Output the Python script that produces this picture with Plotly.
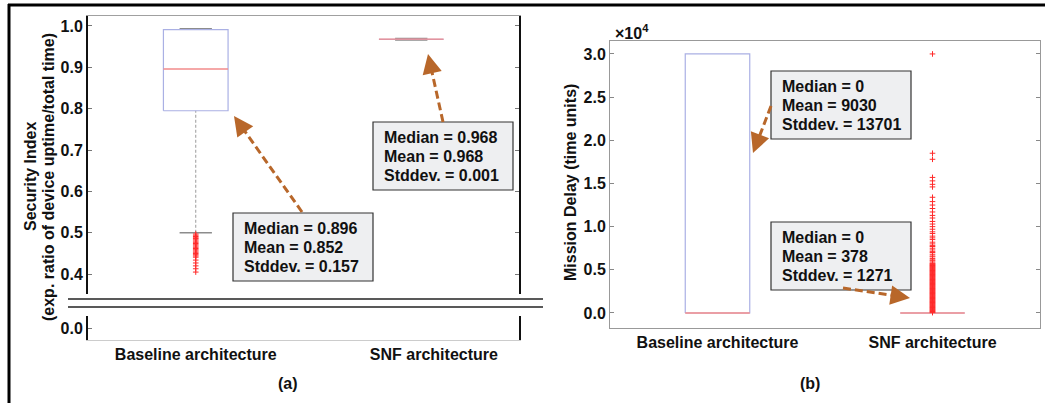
import plotly.graph_objects as go

W, H = 1046, 403

categories = ["Baseline architecture", "SNF architecture"]

# ---- Panel (a): Security index box statistics ----
sec_q1 = [0.795, 0.9674]
sec_median = [0.896, 0.968]
sec_q3 = [0.991, 0.9686]
sec_whisker_low = [0.500, 0.9663]
sec_whisker_high = [0.993, 0.9697]
sec_outliers_baseline = [0.497, 0.494, 0.491, 0.488, 0.486, 0.483, 0.480, 0.477,
                         0.474, 0.471, 0.468, 0.465, 0.462, 0.459, 0.456, 0.453,
                         0.450, 0.447, 0.444, 0.441, 0.434, 0.427, 0.420, 0.413, 0.405]
sec_median_txt = ["0.896", "0.968"]
sec_mean_txt = ["0.852", "0.968"]
sec_std_txt = ["0.157", "0.001"]
sec_tick_vals = [0.4, 0.5, 0.6, 0.7, 0.8, 0.9, 1.0]
sec_tick_text = ["0.4", "0.5", "0.6", "0.7", "0.8", "0.9", "1.0"]

# ---- Panel (b): Mission delay box statistics ----
delay_q1 = [0, 0]
delay_median = [0, 0]
delay_q3 = [30000, 0]
delay_whisker_low = [0, 0]
delay_whisker_high = [30000, 0]
delay_outliers_snf = [40, 110, 170, 240, 300, 370, 430, 500, 560, 630, 690, 760, 820, 890,
                      950, 1020, 1080, 1150, 1210, 1280, 1340, 1410, 1470, 1540, 1600, 1670,
                      1730, 1800, 1860, 1930, 1990, 2060, 2120, 2190, 2250, 2320, 2380, 2450,
                      2510, 2580, 2640, 2710, 2770, 2840, 2900, 2970, 3030, 3100, 3160, 3230,
                      3290, 3360, 3420, 3490, 3550, 3620, 3680, 3750, 3810, 3880, 3940, 4010,
                      4070, 4140, 4200, 4270, 4330, 4400, 4460, 4530, 4590, 4660, 4720, 4790,
                      4850, 4920, 4980, 5050, 5110, 5180, 5240, 5310, 5370, 5440, 5500, 5570,
                      5630, 5700, 5760, 5900, 6050, 6150, 6300, 6500, 6600, 6800, 7000, 7100,
                      7300, 7500, 7700, 7800, 8000, 8200, 8500, 8700, 8900, 9200, 9400, 9700,
                      10000, 10300, 10600, 11000, 11300, 11700, 12100, 12500, 12900, 13400,
                      14600, 14900, 15300, 15700, 17800, 18500, 30000]
delay_median_txt = ["0", "0"]
delay_mean_txt = ["9030", "378"]
delay_std_txt = ["13701", "1271"]
delay_tick_vals = [0, 5000, 10000, 15000, 20000, 25000, 30000]
delay_tick_text = ["0.0", "0.5", "1.0", "1.5", "2.0", "2.5", "3.0"]

FONT = "Liberation Sans, Arial, sans-serif"
BOX_C = "#aab0e4"
MED_C = "#f28b8b"
CAP_C = "#8c8c8c"
WHISK_C = "#9a9a9a"
OUT_C = "#ff2a2a"
ARROW_C = "#b8672a"


def px(x):
    return x / W


def py(y):
    return 1 - y / H


fig = go.Figure()


def add_box(xa, ya, pos, q1, med, q3, lo, hi):
    w, cw = 0.15, 0.075
    if hi != q3:
        fig.add_trace(go.Scatter(x=[pos, pos], y=[q3, hi], mode="lines", xaxis=xa, yaxis=ya,
                                 line=dict(color=WHISK_C, width=1, dash="3px,2px"), hoverinfo="skip"))
    if lo != q1:
        fig.add_trace(go.Scatter(x=[pos, pos], y=[lo, q1], mode="lines", xaxis=xa, yaxis=ya,
                                 line=dict(color=WHISK_C, width=1, dash="3px,2px"), hoverinfo="skip"))
    for v, ref in ((hi, q3), (lo, q1)):
        if v != ref:
            fig.add_trace(go.Scatter(x=[pos - cw, pos + cw], y=[v, v], mode="lines", xaxis=xa, yaxis=ya,
                                     line=dict(color=CAP_C, width=1.6), hoverinfo="skip"))
    fig.add_trace(go.Scatter(x=[pos - w, pos + w, pos + w, pos - w, pos - w],
                             y=[q1, q1, q3, q3, q1], mode="lines", xaxis=xa, yaxis=ya,
                             line=dict(color=BOX_C, width=1.2), hoverinfo="skip"))
    fig.add_trace(go.Scatter(x=[pos - w, pos + w], y=[med, med], mode="lines", xaxis=xa, yaxis=ya,
                             line=dict(color=MED_C, width=1.4), hoverinfo="skip"))


for i in range(2):
    add_box("x", "y", i + 1, sec_q1[i], sec_median[i], sec_q3[i], sec_whisker_low[i], sec_whisker_high[i])
    add_box("x3", "y3", i + 1, delay_q1[i], delay_median[i], delay_q3[i], delay_whisker_low[i], delay_whisker_high[i])

marker = dict(symbol="cross-thin", size=4, line=dict(color=OUT_C, width=1), color=OUT_C)
fig.add_trace(go.Scatter(x=[1] * len(sec_outliers_baseline), y=sec_outliers_baseline, mode="markers",
                         xaxis="x", yaxis="y", marker=marker, hoverinfo="skip"))
fig.add_trace(go.Scatter(x=[2] * len(delay_outliers_snf), y=delay_outliers_snf, mode="markers",
                         xaxis="x3", yaxis="y3", marker=marker, hoverinfo="skip"))
# empty trace so that the broken lower axis of panel (a) is rendered
fig.add_trace(go.Scatter(x=[None], y=[None], mode="markers", xaxis="x2", yaxis="y2", hoverinfo="skip"))

tickfont = dict(family=FONT, size=16, color="#111", weight="bold")

fig.update_layout(
    width=W, height=H, margin=dict(l=0, r=0, t=0, b=0),
    paper_bgcolor="white", plot_bgcolor="white", showlegend=False,
    font=dict(family=FONT, color="#111"),
    xaxis=dict(domain=[px(88), px(519)], anchor="y", range=[0.5, 2.5], side="top",
               showline=True, linecolor="#a0a0a0", linewidth=1, showticklabels=False,
               ticks="", showgrid=False, zeroline=False),
    yaxis=dict(domain=[py(294), py(16)], anchor="x", range=[0.352, 1.024],
               tickvals=sec_tick_vals, ticktext=sec_tick_text, tickfont=tickfont,
               showline=True, linecolor="#111", linewidth=2, mirror="ticks",
               ticks="inside", ticklen=4, tickcolor="#777", showgrid=False, zeroline=False),
    xaxis2=dict(domain=[px(88), px(519)], anchor="y2", range=[0.5, 2.5],
                tickvals=[1, 2.105], ticktext=categories, tickfont=tickfont,
                showline=True, linecolor="#cccccc", linewidth=1, ticks="",
                showgrid=False, zeroline=False),
    yaxis2=dict(domain=[py(340), py(316)], anchor="x2", range=[-0.027, 0.031],
                tickvals=[0], ticktext=["0.0"], tickfont=tickfont,
                showline=True, linecolor="#111", linewidth=2, mirror=True,
                ticks="inside", ticklen=4, tickcolor="#777", showgrid=False, zeroline=False),
    xaxis3=dict(domain=[px(610), px(1040)], anchor="y3", range=[0.5, 2.5],
                tickvals=[1, 2], ticktext=categories, tickfont=tickfont,
                showline=True, linecolor="#999", linewidth=1, mirror=True, ticks="",
                showgrid=False, zeroline=False),
    yaxis3=dict(domain=[py(328), py(41)], anchor="x3", range=[-1740, 31500],
                tickvals=delay_tick_vals, ticktext=delay_tick_text, tickfont=tickfont,
                showline=True, linecolor="#999", linewidth=1, mirror="ticks",
                ticks="inside", ticklen=4, tickcolor="#888", showgrid=False, zeroline=False),
)

shapes = []
annotations = []

# frame lines of the figure
shapes.append(dict(type="line", xref="paper", yref="paper", x0=px(8), x1=px(1045), y0=py(5), y1=py(5),
                   line=dict(color="black", width=3)))
shapes.append(dict(type="line", xref="paper", yref="paper", x0=px(9), x1=px(9), y0=py(4), y1=py(403),
                   line=dict(color="black", width=3)))
# axis break lines
for yb in (299, 307):
    shapes.append(dict(type="line", xref="paper", yref="paper", x0=px(68), x1=px(543), y0=py(yb), y1=py(yb),
                       line=dict(color="#222", width=1.5)))

# stat boxes
stat_boxes = [
    (233, 213, sec_median_txt[0], sec_mean_txt[0], sec_std_txt[0]),
    (373, 122, sec_median_txt[1], sec_mean_txt[1], sec_std_txt[1]),
    (771, 71, delay_median_txt[0], delay_mean_txt[0], delay_std_txt[0]),
    (771, 222, delay_median_txt[1], delay_mean_txt[1], delay_std_txt[1]),
]
for (bx, by, m, mn, sd) in stat_boxes:
    shapes.append(dict(type="rect", xref="paper", yref="paper", x0=px(bx), x1=px(bx + 140),
                       y0=py(by), y1=py(by + 68), fillcolor="#eeeff1",
                       line=dict(color="#333", width=1.2)))
    for k, t in enumerate(["Median = " + m, "Mean = " + mn, "Stddev. = " + sd]):
        annotations.append(dict(xref="paper", yref="paper", x=px(bx + 9), y=py(by + 15 + 19 * k),
                                xanchor="left", yanchor="middle", showarrow=False, text=t,
                                font=dict(family=FONT, size=16, color="#111", weight="bold")))

# dashed arrows
arrows = [((302, 212), (234, 116)), ((443, 122), (428, 54)), ((771, 106), (753, 153)), ((843, 288), (910, 298))]
for (tx, ty), (hx, hy) in arrows:
    dx, dy = hx - tx, hy - ty
    L = (dx * dx + dy * dy) ** 0.5
    ux, uy = dx / L, dy / L
    ex, ey = hx - ux * 6, hy - uy * 6
    shapes.append(dict(type="line", xref="paper", yref="paper", x0=px(tx), y0=py(ty), x1=px(ex), y1=py(ey),
                       line=dict(color=ARROW_C, width=3, dash="8px,4px")))
    annotations.append(dict(xref="paper", yref="paper", x=px(hx), y=py(hy), text="", showarrow=True,
                            ax=-ux * 12, ay=-uy * 12, arrowhead=2, arrowsize=1.3, arrowwidth=3,
                            arrowcolor=ARROW_C, standoff=0))

# axis titles
title_font = dict(family=FONT, size=16, color="#111", weight="bold")
annotations.append(dict(xref="paper", yref="paper", x=px(30), y=py(177), text="Security Index",
                        textangle=-90, showarrow=False, font=title_font, xanchor="center", yanchor="middle"))
annotations.append(dict(xref="paper", yref="paper", x=px(48), y=py(177),
                        text="(exp. ratio of device uptime/total time)",
                        textangle=-90, showarrow=False, font=title_font, xanchor="center", yanchor="middle"))
annotations.append(dict(xref="paper", yref="paper", x=px(571), y=py(183), text="Mission Delay (time units)",
                        textangle=-90, showarrow=False, font=title_font, xanchor="center", yanchor="middle"))
annotations.append(dict(xref="paper", yref="paper", x=px(613), y=py(32), text="×10<sup>4</sup>",
                        showarrow=False, xanchor="left", yanchor="middle",
                        font=dict(family=FONT, size=16, color="#111", weight="bold")))
annotations.append(dict(xref="paper", yref="paper", x=px(288), y=py(383), text="(a)", showarrow=False,
                        font=title_font, xanchor="center", yanchor="middle"))
annotations.append(dict(xref="paper", yref="paper", x=px(810), y=py(383), text="(b)", showarrow=False,
                        font=title_font, xanchor="center", yanchor="middle"))

fig.update_layout(shapes=shapes, annotations=annotations)
fig.write_html("out.html", config={"displayModeBar": False},
               post_script="document.body.style.margin='0';document.body.style.overflow='hidden';")
